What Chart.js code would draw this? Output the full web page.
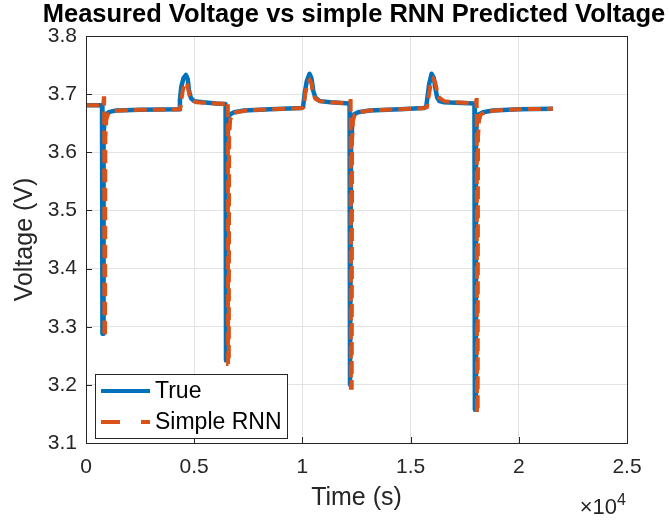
<!DOCTYPE html>
<html>
<head>
<meta charset="utf-8">
<script src="https://cdn.jsdelivr.net/npm/chart.js@4.4.0/dist/chart.umd.min.js"></script>
<style>
  html, body { margin: 0; padding: 0; background: #fff; }
  #wrap { width: 670px; height: 523px; }
</style>
</head>
<body>
<div id="wrap"><canvas id="voltChart" width="670" height="523"></canvas></div>
<script>
// [time (s), voltage (V)]
const trueSeries = [
  [0, 3.681], [740, 3.681], [760, 3.288], [800, 3.288], [812, 3.625], [850, 3.655], [920, 3.665],
  [1050, 3.669], [1400, 3.672], [2500, 3.673], [4300, 3.674], [4340, 3.690], [4400, 3.712],
  [4500, 3.727], [4620, 3.733], [4700, 3.726], [4760, 3.706], [4850, 3.693], [5000, 3.688],
  [5400, 3.686], [6000, 3.684], [6450, 3.683], [6470, 3.242], [6510, 3.242], [6522, 3.625],
  [6560, 3.655], [6640, 3.665], [6850, 3.669], [7300, 3.672], [8500, 3.674], [9950, 3.676],
  [10030, 3.678], [10100, 3.700], [10200, 3.722], [10330, 3.735], [10420, 3.727], [10500, 3.706],
  [10600, 3.694], [10800, 3.688], [11300, 3.686], [12180, 3.684], [12200, 3.200], [12240, 3.200],
  [12252, 3.625], [12290, 3.655], [12370, 3.665], [12580, 3.669], [13100, 3.672], [14500, 3.674],
  [15600, 3.676], [15720, 3.678], [15780, 3.695], [15860, 3.718], [15970, 3.735], [16070, 3.728],
  [16160, 3.707], [16230, 3.694], [16330, 3.688], [16550, 3.686], [17100, 3.685], [17950, 3.684],
  [17970, 3.157], [18010, 3.157], [18022, 3.625], [18060, 3.655], [18140, 3.665], [18350, 3.669],
  [18800, 3.672], [20000, 3.674], [21580, 3.675]
];

const rnnSeries = [
  [0, 3.681], [800, 3.681], [820, 3.693], [840, 3.693], [850, 3.283], [880, 3.283], [895, 3.625],
  [935, 3.655], [1010, 3.665], [1150, 3.669], [1500, 3.672], [2500, 3.673], [4350, 3.674],
  [4400, 3.688], [4480, 3.708], [4580, 3.719], [4660, 3.720], [4720, 3.710], [4790, 3.697],
  [4900, 3.689], [5100, 3.686], [5500, 3.685], [6000, 3.684], [6480, 3.683], [6540, 3.686],
  [6555, 3.686], [6565, 3.236], [6600, 3.236], [6615, 3.625], [6660, 3.655], [6750, 3.665],
  [6950, 3.669], [7400, 3.672], [8500, 3.674], [10000, 3.676], [10060, 3.678], [10130, 3.700],
  [10230, 3.718], [10340, 3.724], [10420, 3.718], [10490, 3.702], [10600, 3.692], [10800, 3.688],
  [11300, 3.686], [12150, 3.684], [12210, 3.688], [12230, 3.688], [12240, 3.195], [12280, 3.195],
  [12295, 3.625], [12340, 3.655], [12420, 3.665], [12630, 3.669], [13100, 3.672], [14500, 3.674],
  [15650, 3.676], [15760, 3.678], [15830, 3.695], [15920, 3.715], [16050, 3.726], [16140, 3.720],
  [16220, 3.705], [16320, 3.694], [16550, 3.688], [17100, 3.686], [18000, 3.684], [18040, 3.690],
  [18055, 3.690], [18065, 3.152], [18100, 3.152], [18115, 3.625], [18160, 3.655], [18240, 3.665],
  [18450, 3.669], [18900, 3.672], [20000, 3.674], [21580, 3.675]
];

const seriesNames = ["True", "Simple RNN"];
const chartTitle = "Measured Voltage vs simple RNN Predicted Voltage";
const xTicks = [0, 5000, 10000, 15000, 20000, 25000];
const yTicks = [3.1, 3.2, 3.3, 3.4, 3.5, 3.6, 3.7, 3.8];

const BLUE = "#0072BD";
const ORANGE = "#D95319";
const AXIS = "#262626";
const FONT = "'Liberation Sans', Arial, sans-serif";

const toPoints = s => s.map(p => ({ x: p[0], y: p[1] }));

// title, box, inward ticks, x10^4 note and the legend (MATLAB style)
const matlabAxes = {
  id: "matlabAxes",
  afterDraw(chart) {
    const { ctx, chartArea: a, scales } = chart;
    ctx.save();

    ctx.fillStyle = "#000";
    ctx.font = "bold 25.5px " + FONT;
    ctx.textAlign = "center";
    ctx.textBaseline = "alphabetic";
    ctx.fillText(chartTitle, 354, 22);

    ctx.strokeStyle = AXIS;
    ctx.lineWidth = 1;
    ctx.strokeRect(a.left + 0.5, a.top + 0.5, a.right - a.left, a.bottom - a.top);
    ctx.beginPath();
    scales.y.ticks.forEach(t => {
      const y = Math.round(scales.y.getPixelForValue(t.value)) + 0.5;
      ctx.moveTo(a.left, y); ctx.lineTo(a.left + 6, y);
    });
    scales.x.ticks.forEach(t => {
      const x = Math.round(scales.x.getPixelForValue(t.value)) + 0.5;
      ctx.moveTo(x, a.bottom); ctx.lineTo(x, a.bottom - 6);
    });
    ctx.stroke();

    // exponent note
    ctx.fillStyle = AXIS;
    ctx.textAlign = "right";
    ctx.font = "22px " + FONT;
    ctx.fillText("\u00d710", 617, 514);
    ctx.textAlign = "left";
    ctx.font = "16px " + FONT;
    ctx.fillText("4", 617, 505);

    // legend
    const lx = a.left + 9, ly = a.bottom - 69, lw = 192, lh = 64;
    ctx.fillStyle = "#fff";
    ctx.fillRect(lx, ly, lw, lh);
    ctx.strokeStyle = AXIS;
    ctx.strokeRect(lx + 0.5, ly + 0.5, lw, lh);
    ctx.lineCap = "butt";
    ctx.lineWidth = 4;
    ctx.strokeStyle = BLUE;
    ctx.beginPath(); ctx.moveTo(lx + 6, ly + 17); ctx.lineTo(lx + 55, ly + 17); ctx.stroke();
    ctx.strokeStyle = ORANGE;
    ctx.beginPath();
    ctx.moveTo(lx + 6, ly + 48); ctx.lineTo(lx + 25, ly + 48);
    ctx.moveTo(lx + 46, ly + 48); ctx.lineTo(lx + 55, ly + 48);
    ctx.stroke();
    ctx.fillStyle = "#000";
    ctx.font = "23px " + FONT;
    ctx.textBaseline = "middle";
    ctx.fillText(seriesNames[0], lx + 60, ly + 18);
    ctx.fillText(seriesNames[1], lx + 60, ly + 49);
    ctx.restore();
  }
};

new Chart(document.getElementById("voltChart").getContext("2d"), {
  type: "line",
  data: {
    datasets: [
      {
        label: seriesNames[0],
        data: toPoints(trueSeries),
        borderColor: BLUE,
        borderWidth: 4.5,
        pointRadius: 0,
        tension: 0,
        borderJoinStyle: "round",
        order: 2
      },
      {
        label: seriesNames[1],
        data: toPoints(rnnSeries),
        borderColor: ORANGE,
        borderWidth: 4,
        borderDash: [13, 6],
        pointRadius: 0,
        tension: 0,
        borderJoinStyle: "miter",
        order: 1
      }
    ]
  },
  options: {
    responsive: false,
    animation: false,
    devicePixelRatio: 1,
    layout: { padding: { left: 0, right: 43, top: 36, bottom: 0 } },
    plugins: {
      legend: { display: false },
      tooltip: { enabled: false },
      title: { display: false }
    },
    scales: {
      x: {
        type: "linear",
        min: 0,
        max: 25000,
        afterFit(s) { s.height = 80; },
        afterBuildTicks(s) { s.ticks = xTicks.map(v => ({ value: v })); },
        ticks: {
          color: AXIS,
          font: { family: FONT, size: 21 },
          padding: 12,
          maxRotation: 0,
          callback: v => String(v / 10000)
        },
        grid: { color: "#e3e3e3", drawTicks: false },
        border: { display: false },
        title: {
          display: true,
          text: "Time (s)",
          color: AXIS,
          font: { family: FONT, size: 25 },
          padding: { top: 0, bottom: 10 }
        }
      },
      y: {
        type: "linear",
        min: 3.1,
        max: 3.8,
        afterFit(s) { s.width = 86; },
        afterBuildTicks(s) { s.ticks = yTicks.map(v => ({ value: v })); },
        ticks: {
          color: AXIS,
          font: { family: FONT, size: 21 },
          padding: 9,
          callback: v => v.toFixed(1)
        },
        grid: { color: "#e3e3e3", drawTicks: false },
        border: { display: false },
        title: {
          display: true,
          text: "Voltage (V)",
          color: AXIS,
          font: { family: FONT, size: 25 },
          padding: { top: 10, bottom: 0 }
        }
      }
    }
  },
  plugins: [matlabAxes]
});
</script>
</body>
</html>
